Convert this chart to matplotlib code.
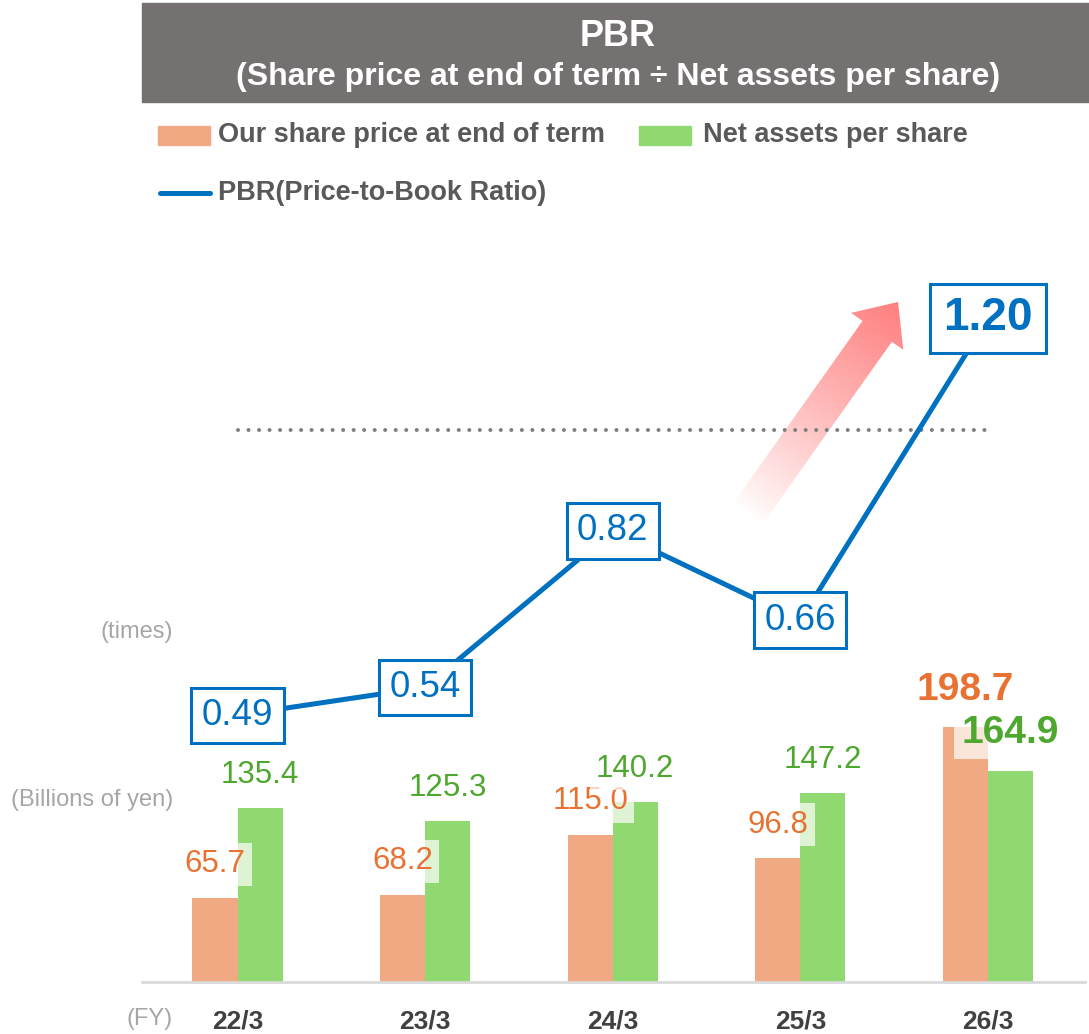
import numpy as np
import matplotlib.pyplot as plt
from matplotlib.patches import Rectangle, FancyArrow
from matplotlib.lines import Line2D

# data
years = ['22/3', '23/3', '24/3', '25/3', '26/3']
share_price = [65.7, 68.2, 115.0, 96.8, 198.7]   # billions of yen
net_assets = [135.4, 125.3, 140.2, 147.2, 164.9]  # billions of yen
pbr = [0.49, 0.54, 0.82, 0.66, 1.20]              # times
pbr_target = 1.0

ORANGE_BAR = '#F1A983'
GREEN_BAR = '#90D971'
ORANGE_TXT = '#E97132'
GREEN_TXT = '#4EA72E'
BLUE = '#0070C0'
GREY_BOX = '#767171'
LEGEND_TXT = '#595959'
NOTE_TXT = '#A6A6A6'

plt.rcParams['font.family'] = ['Liberation Sans', 'DejaVu Sans']

W, H = 1089, 1034
fig = plt.figure(figsize=(W / 100, H / 100), dpi=100)

# background axes in pixel units: title, legend, notes, arrow
bg = fig.add_axes([0, 0, 1, 1], zorder=0)
bg.set_xlim(0, W)
bg.set_ylim(H, 0)
bg.axis('off')

# main axes for the bars
ax = fig.add_axes([142 / W, (H - 982) / H, (1085 - 142) / W, 742 / H], zorder=1)
ax.patch.set_visible(False)
x = np.arange(len(years))
bw = 0.24
ax.bar(x - bw / 2, share_price, bw, color=ORANGE_BAR, zorder=2)
ax.bar(x + bw / 2, net_assets, bw, color=GREEN_BAR, zorder=2)
ax.set_xlim(-0.509, 4.517)
ax.set_ylim(0, 579)

lbl_box = dict(boxstyle='square,pad=0.2', fc='white', ec='none', alpha=0.7)
for i, (s, n) in enumerate(zip(share_price, net_assets)):
    last = i == len(years) - 1
    weight = 'bold' if last else 'normal'
    size = 28 if last else 22.5
    off = 27 if last else 24
    ax.annotate(f'{s:.1f}', (x[i] - bw / 2, s), xytext=(0, off), textcoords='offset points',
                ha='center', va='center', color=ORANGE_TXT, fontsize=size, fontweight=weight,
                bbox=lbl_box, zorder=4)
    ax.annotate(f'{n:.1f}', (x[i] + bw / 2, n), xytext=(0, off), textcoords='offset points',
                ha='center', va='center', color=GREEN_TXT, fontsize=size, fontweight=weight,
                bbox=lbl_box, zorder=4)

ax.set_xticks(x)
ax.set_xticklabels(years, fontsize=19, fontweight='bold', color='#404040')
ax.tick_params(axis='x', length=0, pad=20)
ax.set_yticks([])
for side in ['top', 'left', 'right']:
    ax.spines[side].set_visible(False)
ax.spines['bottom'].set_color('#D9D9D9')
ax.spines['bottom'].set_linewidth(2)

# PBR line on its own scale
ax2 = ax.twinx()
ax2.set_zorder(2)
ax2.set_ylim(0.0129, 1.3403)
ax2.set_yticks([])
for side in ['top', 'left', 'right', 'bottom']:
    ax2.spines[side].set_visible(False)
ax2.hlines(pbr_target, x[0], x[-1], colors='#7F7F7F', linewidth=2.9,
           linestyles=(0, (0.01, 2.6)), capstyle='round', zorder=1)
ax2.plot(x, pbr, color=BLUE, linewidth=3.6, zorder=2)
for i, v in enumerate(pbr):
    last = i == len(pbr) - 1
    ax2.text(x[i], v, f'{v:.2f}', ha='center', va='center', color=BLUE,
             fontsize=33 if last else 26.5, fontweight='bold' if last else 'normal',
             bbox=dict(boxstyle='square,pad=0.28', fc='white', ec=BLUE, lw=2.2), zorder=5)

# gradient arrow
tail = np.array([747.0, 515.0])
d = np.array([151.0, -213.0])
arrow = FancyArrow(tail[0], tail[1], d[0], d[1], width=36, head_width=64, head_length=36,
                   length_includes_head=True, fc='none', ec='none')
bg.add_patch(arrow)
xs = np.linspace(710, 930, 220)
ys = np.linspace(275, 550, 280)
gx, gy = np.meshgrid(xs, ys)
t = np.clip(((gx - tail[0]) * d[0] + (gy - tail[1]) * d[1]) / (d ** 2).sum(), 0, 1)
rgba = np.zeros(gx.shape + (4,))
rgba[..., 0] = 1.0
rgba[..., 1] = 0.50
rgba[..., 2] = 0.50
rgba[..., 3] = t ** 0.9
img = bg.imshow(rgba, extent=(710, 930, 550, 275), origin='upper', aspect='auto', zorder=1)
img.set_clip_path(arrow)
bg.set_xlim(0, W)
bg.set_ylim(H, 0)

# title box
bg.add_patch(Rectangle((142, 3), W - 142, 99, color=GREY_BOX, zorder=2))
bg.text(618, 36, 'PBR', ha='center', va='center', color='white', fontsize=26,
        fontweight='bold', zorder=3)
bg.text(618, 77, '(Share price at end of term \u00f7 Net assets per share)', ha='center',
        va='center', color='white', fontsize=23, fontweight='bold', zorder=3)

# legend
bg.add_patch(Rectangle((158, 126), 52, 19, color=ORANGE_BAR))
bg.text(218, 135, 'Our share price at end of term', va='center', fontsize=19.5,
        fontweight='bold', color=LEGEND_TXT)
bg.add_patch(Rectangle((639, 126), 52, 19, color=GREEN_BAR))
bg.text(703, 135, 'Net assets per share', va='center', fontsize=19.5,
        fontweight='bold', color=LEGEND_TXT)
bg.add_line(Line2D([160, 210], [193, 193], color=BLUE, linewidth=3.6, solid_capstyle='round'))
bg.text(218, 193, 'PBR(Price-to-Book Ratio)', va='center', fontsize=19.5,
        fontweight='bold', color=LEGEND_TXT)

# unit notes
bg.text(173, 632, '(times)', ha='right', va='center', fontsize=17, color=NOTE_TXT)
bg.text(173, 800, '(Billions of yen)', ha='right', va='center', fontsize=17, color=NOTE_TXT)
bg.text(173, 1019, '(FY)', ha='right', va='center', fontsize=17, color=NOTE_TXT)

fig.savefig('out.png', dpi=100)
